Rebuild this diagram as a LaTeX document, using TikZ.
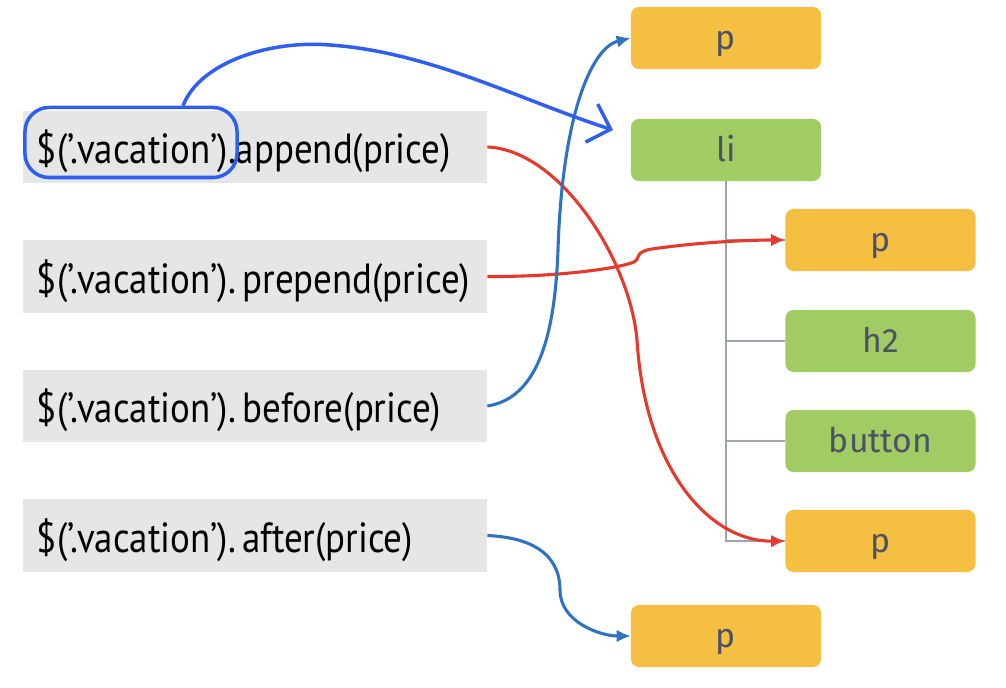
\documentclass[tikz,border=0pt]{standalone}
\usepackage{fontspec}
\usepackage{graphicx}
\setmainfont{PT Sans}
\newfontfamily\tagfont{Fira Sans}
\definecolor{codegray}{HTML}{E6E6E6}
\definecolor{tagorange}{HTML}{F5BF42}
\definecolor{taggreen}{HTML}{A0CC63}
\definecolor{tagtext}{HTML}{4A5263}
\definecolor{treegray}{HTML}{9EA3AE}
\definecolor{movered}{HTML}{E8382C}
\definecolor{moveblue}{HTML}{2F72C1}
\definecolor{penblue}{HTML}{2F5FF0}
\newcommand{\jcall}[1]{\scalebox{0.875}[1]{\$(’.vacation’)#1}}
\usetikzlibrary{arrows.meta}

\begin{document}
\begin{tikzpicture}[x=0.025cm,y=-0.025cm,
    call/.style={fill=codegray,minimum height=1.8cm,text width=10.9cm,
      text height=26pt,text depth=2pt,
      inner xsep=0.35cm,align=left,font=\fontsize{30}{32}\selectfont},
    tag/.style={rounded corners=0.2cm,minimum width=4.75cm,minimum height=1.55cm,
      text height=18pt,text depth=1pt,
      text=tagtext,font=\tagfont\fontsize{24}{26}\selectfont},
    ptag/.style={tag,fill=tagorange},
    etag/.style={tag,fill=taggreen},
    move/.style={line width=2.2pt,-{Latex[length=10pt,width=9pt]}},
    branch/.style={treegray,line width=1pt}]
  \useasboundingbox (0,0) rectangle (1006,688);

  %% jQuery calls
  \node[call] (append)  at (255,147)   {\jcall{.append(price)}};
  \node[call] (prepend) at (255,276.5) {\jcall{.\hspace{0.18em}prepend(price)}};
  \node[call] (before)  at (255,406)   {\jcall{.\hspace{0.18em}before(price)}};
  \node[call] (after)   at (255,535.5) {\jcall{.\hspace{0.18em}after(price)}};

  %% DOM elements
  \node[ptag] (pbefore)  at (726,38)    {p};
  \node[etag] (li)       at (726,150)   {li};
  \node[ptag] (pprepend) at (880.5,240) {p};
  \node[etag] (h2)       at (880.5,341) {h2};
  \node[etag] (button)   at (880.5,441) {button};
  \node[ptag] (pappend)  at (880.5,541) {p};
  \node[ptag] (pafter)   at (726,636)   {p};

  \draw[branch] (li.south) -- (li.south |- pappend.west) -- (pappend.west);
  \draw[branch] (li.south |- pprepend.west) -- (pprepend.west);
  \draw[branch] (li.south |- h2.west) -- (h2.west);
  \draw[branch] (li.south |- button.west) -- (button.west);

  %% Where each call puts price
  \draw[move,movered]
    (append.east) .. controls (560,150) and (630,260) .. (637,340)
    .. controls (645,470) and (710,542) .. (pappend.west);
  \draw[move,movered]
    (prepend.east) .. controls (560,277) and (620,268) .. (634,262)
    .. controls (641,258) and (634,252) .. (652,249)
    .. controls (700,242) and (750,240) .. (pprepend.west);
  \draw[move,moveblue]
    (before.east) .. controls (540,398) and (555,330) .. (558,250)
    .. controls (562,120) and (590,48) .. (pbefore.west);
  \draw[move,moveblue]
    (after.east) .. controls (540,538) and (560,560) .. (560,590)
    .. controls (560,622) and (600,636) .. (pafter.west);

  %% Pen marks
  \node[draw=penblue,line width=2.5pt,rounded corners=0.6cm,
    minimum width=5.3cm,minimum height=1.75cm] (selector) at (131,142.5) {};
  \coordinate (pentip) at (613,130);
  \draw[penblue,line width=2.5pt,-{Straight Barb[length=0.5cm,width=1cm]}]
    ([xshift=1.3cm]selector.north) .. controls (200,62) and (270,40) .. (330,45)
    .. controls (430,52) and (520,100) .. (pentip);
\end{tikzpicture}
\end{document}
